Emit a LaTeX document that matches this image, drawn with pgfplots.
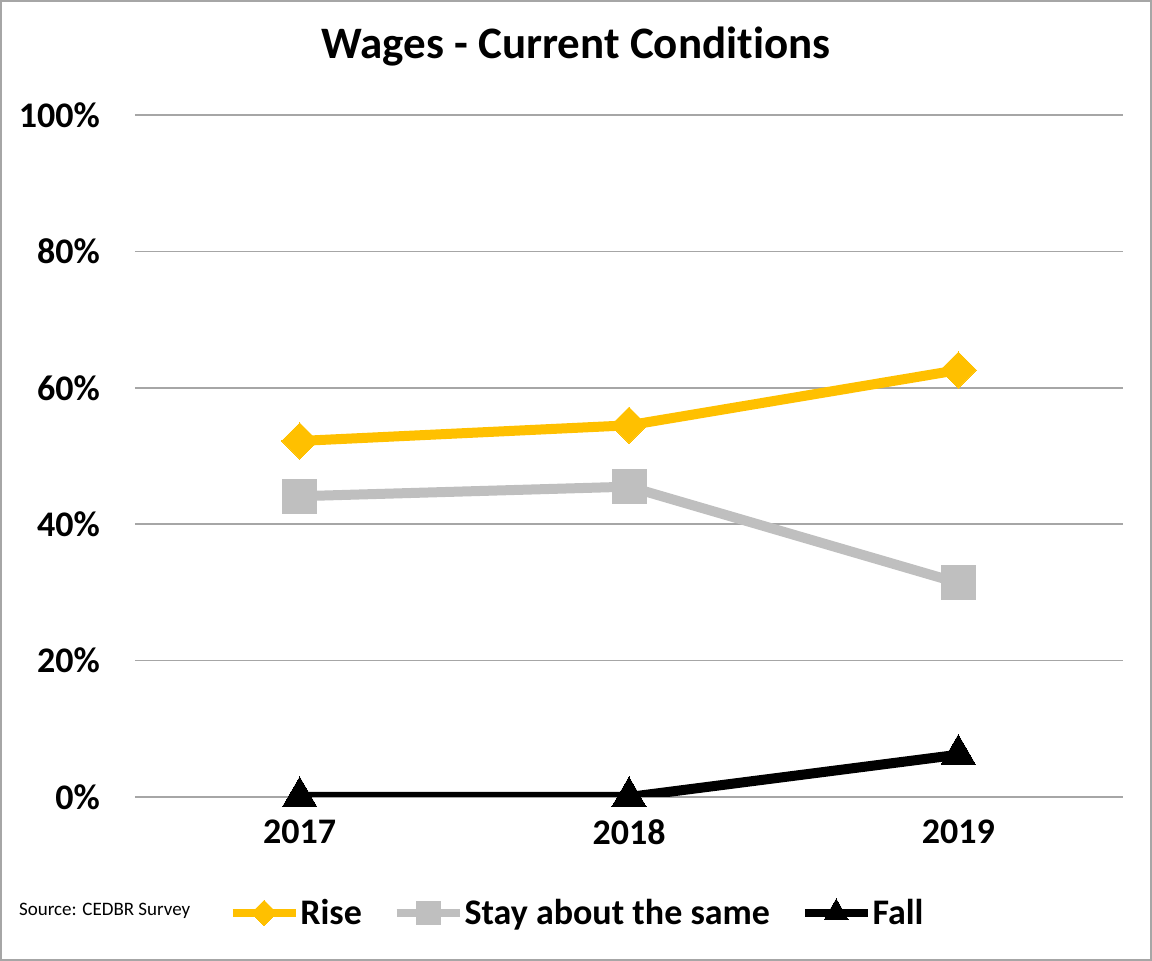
\documentclass[border=0pt]{standalone}
\usepackage{pgfplots}
\pgfplotsset{compat=1.18}
\usepackage{fontspec}
\setmainfont{Carlito}[Ligatures=NoCommon]
\definecolor{rise}{HTML}{FFC000}
\definecolor{stay}{HTML}{BFBFBF}
\definecolor{gridc}{HTML}{A6A6A6}
\begin{document}
\begin{tikzpicture}
\useasboundingbox (0pt,0pt) rectangle (576pt,480.5pt);
\draw[gray!70, line width=1pt] (0.5pt,0.5pt) rectangle (575.5pt,480pt);
\node[font=\fontsize{22.5}{26}\selectfont\bfseries] at (288pt,457pt) {Wages - Current Conditions};
\node[font=\fontsize{9.5}{11}\selectfont, anchor=west] at (6pt,25pt) {Source: CEDBR Survey};
\begin{axis}[
  at={(67.5pt,82pt)}, anchor=south west,
  scale only axis, width=494pt, height=341pt,
  xmin=-0.5, xmax=2.5, ymin=0, ymax=100,
  xtick={0,1,2}, xticklabels={2017,2018,2019},
  ytick={0,20,40,60,80,100},
  yticklabel={\pgfmathprintnumber{\tick}\%},
  /pgf/number format/assume math mode=true,
  ticklabel style={font=\fontsize{18}{22}\selectfont\bfseries},
  xticklabel style={yshift=-8pt},
  yticklabel style={xshift=-14pt, anchor=east},
  axis line style={draw=none},
  major tick length=0pt,
  ymajorgrids, grid style={gridc, line width=0.8pt},
  legend columns=3,
  legend style={at={(0.447,-0.17)}, anchor=center, draw=none, fill=none,
    font=\fontsize{18}{22}\selectfont\bfseries,
    nodes={inner xsep=0.5pt},
    /tikz/every even column/.append style={column sep=15pt}},
  legend cell align=left,
  legend image code/.code={
    \draw[mark repeat=2,mark phase=2, line width=3.8pt, every mark/.append style={scale=0.7}] plot coordinates {(0pt,0pt) (15.75pt,0pt) (31.5pt,0pt)};
  },
]
\addplot[rise, line width=5pt, mark=square*, mark size=6.4pt, mark options={rotate=45, line width=0pt}] coordinates {(0,52.2) (1,54.5) (2,62.6)};
\addlegendentry{Rise}
\addplot[stay, line width=5pt, mark=square*, mark size=8.5pt, mark options={line width=0pt}] coordinates {(0,44.1) (1,45.5) (2,31.4)};
\addlegendentry{Stay about the same}
\addplot[black, line width=5pt, mark=triangle*, mark size=10pt, mark options={line width=0pt}] coordinates {(0,0) (1,0) (2,6.2)};
\addlegendentry{Fall}
\end{axis}
\end{tikzpicture}
\end{document}
